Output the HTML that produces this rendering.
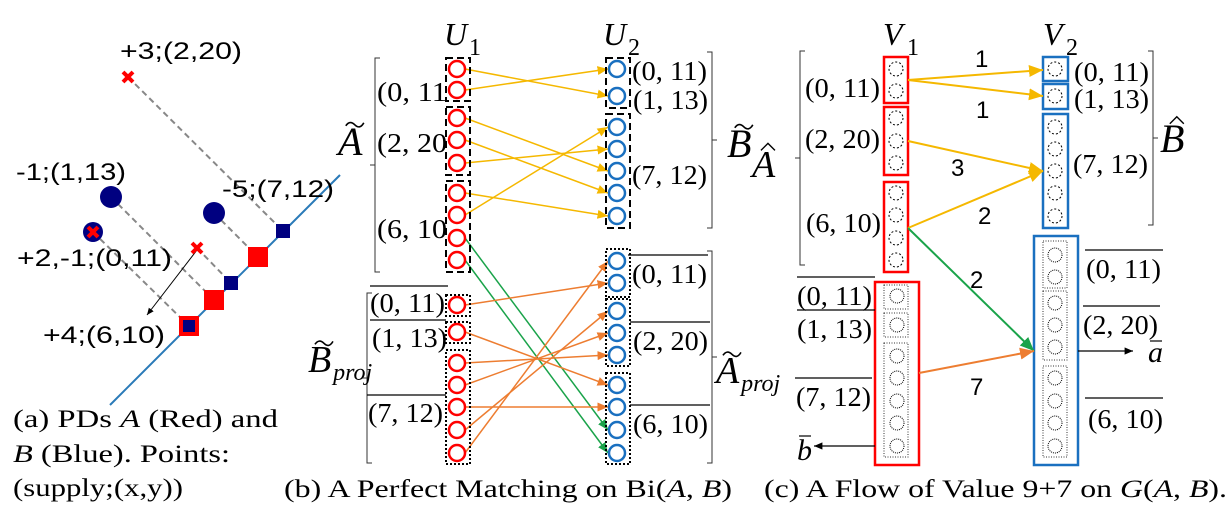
<!DOCTYPE html>
<html><head><meta charset="utf-8"><style>
body{margin:0;background:#fff}
svg{display:block}
.s{font-family:"Liberation Sans","DejaVu Sans",sans-serif;font-size:24px}
.m{font-family:"Liberation Serif",serif;font-size:27px}
.cap{font-family:"Liberation Serif",serif;font-size:25px}
.i{font-family:"Liberation Serif",serif;font-style:italic}
</style></head><body>
<svg id="c" width="1230" height="505" viewBox="0 0 1230 505" xmlns="http://www.w3.org/2000/svg">
<defs>
<marker id="ay" markerWidth="8" markerHeight="8" refX="7" refY="3" orient="auto"><path d="M0,0L7,3L0,6z" fill="#f5b800"/></marker>
<marker id="ao" markerWidth="8" markerHeight="8" refX="7" refY="3" orient="auto"><path d="M0,0L7,3L0,6z" fill="#ed7d31"/></marker>
<marker id="ag" markerWidth="8" markerHeight="8" refX="7" refY="3" orient="auto"><path d="M0,0L7,3L0,6z" fill="#1aa34a"/></marker>
<marker id="ak" markerWidth="8" markerHeight="8" refX="7" refY="3" orient="auto"><path d="M0,0L7,3L0,6z" fill="#000"/></marker>
</defs>
<g>
<line x1="110" y1="405" x2="340" y2="175" stroke="#2a7ab8" stroke-width="2"/>
<g stroke="#888" stroke-width="2" stroke-dasharray="6,4">
<line x1="128" y1="77" x2="283" y2="231"/><line x1="111" y1="197" x2="214" y2="300"/>
<line x1="214" y1="213" x2="258" y2="257"/><line x1="93" y1="232" x2="189" y2="326"/>
<line x1="197" y1="248" x2="231" y2="283"/></g>
<line x1="197" y1="250" x2="147" y2="315" stroke="#000" stroke-width="1" marker-end="url(#ak)"/>
<rect x="248" y="247" width="20" height="20" fill="#f00"/><rect x="204" y="290" width="20" height="20" fill="#f00"/>
<rect x="179" y="316" width="20" height="20" fill="#f00"/><rect x="183" y="320" width="12" height="12" fill="#000080"/>
<rect x="276" y="224" width="14" height="14" fill="#000080"/><rect x="224" y="276" width="14" height="14" fill="#000080"/>
<circle cx="111" cy="197" r="11" fill="#000080"/><circle cx="214" cy="213" r="11" fill="#000080"/><circle cx="93" cy="232" r="10" fill="#000080"/>
<g stroke="#f00" stroke-width="4"><path d="M123,72l10,10M133,72l-10,10"/><path d="M88,227l10,10M98,227l-10,10"/><path d="M192,243l10,10M202,243l-10,10"/></g>
<text class="s" x="120" y="59" textLength="122" lengthAdjust="spacingAndGlyphs">+3;(2,20)</text>
<text class="s" x="16" y="180" textLength="110" lengthAdjust="spacingAndGlyphs">-1;(1,13)</text>
<text class="s" x="222" y="197" textLength="112" lengthAdjust="spacingAndGlyphs">-5;(7,12)</text>
<text class="s" x="17" y="266" textLength="155" lengthAdjust="spacingAndGlyphs">+2,-1;(0,11)</text>
<text class="s" x="43" y="343" textLength="122" lengthAdjust="spacingAndGlyphs">+4;(6,10)</text>
<text class="cap" x="13" y="427" textLength="265" lengthAdjust="spacingAndGlyphs">(a) PDs <tspan class="i">A</tspan> (Red) and</text>
<text class="cap" x="13" y="462" textLength="217" lengthAdjust="spacingAndGlyphs"><tspan class="i">B</tspan> (Blue). Points:</text>
<text class="cap" x="13" y="496" textLength="170" lengthAdjust="spacingAndGlyphs">(supply;(x,y))</text>
</g>
<g id="pb"></g>
<g id="pc"></g>
<text class="cap" x="284" y="497" textLength="448" lengthAdjust="spacingAndGlyphs">(b) A Perfect Matching on Bi(<tspan class="i">A</tspan>, <tspan class="i">B</tspan>)</text>
<text class="cap" x="764" y="497" textLength="463" lengthAdjust="spacingAndGlyphs">(c) A Flow of Value 9+7 on <tspan class="i">G</tspan>(<tspan class="i">A</tspan>, <tspan class="i">B</tspan>).</text>
</svg>
<script>
const u1Y=[69,90,118,140,163,193,215,238,260,305,332,363,385,407,430,453];
const u2Y=[69,96,127,149,171,193,216,261,283,311,333,355,385,407,430,453];
const matchFrom=[0,1,2,3,4,5,6,7,8,9,10,11,12,13,14,15];
const matchTo=[1,0,4,5,3,6,2,14,15,8,12,11,10,13,9,7];
const matchKind=["y","y","y","y","y","y","y","g","g","o","o","o","o","o","o","o"];
const flowLabels=["1","1","3","2","2","7"];
const NS="http://www.w3.org/2000/svg";
function el(p,t,a,txt){const e=document.createElementNS(NS,t);for(const k in a)e.setAttribute(k,a[k]);if(txt!==undefined)e.textContent=txt;p.appendChild(e);return e;}
const pb=document.getElementById('pb'),pc=document.getElementById('pc');
const X1=457,X2=617,col={y:"#f5b800",o:"#ed7d31",g:"#1aa34a"};
for(let i=0;i<matchFrom.length;i++){
 const a=u1Y[matchFrom[i]],b=u2Y[matchTo[i]],k=matchKind[i];
 const l=el(pb,'line',{x1:X1+8,y1:a,x2:X2-9,y2:b,stroke:col[k],'stroke-width':1.5,'marker-end':'url(#a'+k+')'});
 
 
}
u1Y.forEach(y=>{const c=el(pb,'circle',{cx:X1,cy:y,r:8,fill:'none',stroke:'#f00','stroke-width':2.5});
 
 });
u2Y.forEach(y=>{const c=el(pb,'circle',{cx:X2,cy:y,r:8,fill:'none',stroke:'#1a70c0','stroke-width':2.5});
 
 });
[[446,58,101],[446,107,175],[446,181,272]].forEach(r=>el(pb,'rect',{x:r[0],y:r[1],width:24,height:r[2]-r[1],fill:'none',stroke:'#000','stroke-width':2,'stroke-dasharray':'7,4'}));
[[606,58,108],[606,114,228]].forEach(r=>el(pb,'rect',{x:r[0],y:r[1],width:24,height:r[2]-r[1],fill:'none',stroke:'#000','stroke-width':2,'stroke-dasharray':'7,4'}));
[[446,295,316],[446,322,343],[446,350,464]].forEach(r=>el(pb,'rect',{x:r[0],y:r[1],width:24,height:r[2]-r[1],fill:'none',stroke:'#000','stroke-width':2,'stroke-dasharray':'2,2'}));
[[606,249,297],[606,299,366],[606,373,464]].forEach(r=>el(pb,'rect',{x:r[0],y:r[1],width:24,height:r[2]-r[1],fill:'none',stroke:'#000','stroke-width':2,'stroke-dasharray':'2,2'}));
function brL(p,x,y1,y2){el(p,'path',{d:`M${x+5},${y1}H${x}V${y2}H${x+5}M${x},${(y1+y2)/2}H${x-5}`,fill:'none',stroke:'#333','stroke-width':1});}
function brR(p,x,y1,y2){el(p,'path',{d:`M${x-5},${y1}H${x}V${y2}H${x-5}M${x},${(y1+y2)/2}H${x+5}`,fill:'none',stroke:'#333','stroke-width':1});}
function tx(p,x,y,s,cls,fs,len){const t=el(p,'text',{x:x,y:y,class:cls||'m'},s);if(fs)t.style.fontSize=fs+'px';if(len){t.setAttribute('textLength',len);t.setAttribute('lengthAdjust','spacingAndGlyphs');}return t;}
function ol(p,x1,x2,y){el(p,'line',{x1:x1,x2:x2,y1:y,y2:y,stroke:'#000','stroke-width':1.2});}
function acc(p,x,y,letter,mark,fs,sub){
 tx(p,x,y,letter,'m i',fs);
 const cx=x+fs*0.42,ty=y-fs*0.78;
 if(mark==='~')el(p,'path',{d:`M${cx-9},${ty+2}q4,-6 9,-1t9,-2`,fill:'none',stroke:'#000','stroke-width':1.6});
 else el(p,'path',{d:`M${cx-7},${ty+3}L${cx},${ty-4}L${cx+7},${ty+3}`,fill:'none',stroke:'#000','stroke-width':1.4});
 if(sub)tx(p,x+fs*0.66,y+8,sub,'m i',24);}
brL(pb,375,58,272);brL(pb,367,293,463);brR(pb,712,52,228);brR(pb,712,251,463);
tx(pb,444,45,'U','m i',32);tx(pb,469,55,'1','m',24);tx(pb,603,45,'U','m i',32);tx(pb,628,55,'2','m',24);
tx(pb,377,101,'(0, 11','m',27,70);tx(pb,377,152,'(2, 20','m',27,70);tx(pb,377,238,'(6, 10','m',27,70);
acc(pb,338,155,'A','~',40);acc(pb,727,157,'B','~',40);
acc(pb,308,372,'B','~',38,'proj');acc(pb,716,383,'A','~',38,'proj');
ol(pb,370,448,286);tx(pb,370,312,'(0, 11)','m',27,75);ol(pb,370,446,320);tx(pb,372,347,'(1, 13)','m',27,75);ol(pb,367,446,395);tx(pb,368,422,'(7, 12)','m',27,75);
tx(pb,632,80,'(0, 11)','m',27,75);tx(pb,633,109,'(1, 13)','m',27,75);tx(pb,632,184,'(7, 12)','m',27,75);
ol(pb,628,708,255);tx(pb,632,283,'(0, 11)','m',27,75);ol(pb,630,710,322);tx(pb,633,350,'(2, 20)','m',27,75);ol(pb,630,710,405);tx(pb,633,433,'(6, 10)','m',27,75);
function dc(p,x,y,d){el(p,'circle',{cx:x,cy:y,r:7,fill:'none',stroke:'#000','stroke-width':1,'stroke-dasharray':d});}
[[884,57,103],[884,107,175],[884,182,272]].forEach(r=>el(pc,'rect',{x:r[0],y:r[1],width:24,height:r[2]-r[1],fill:'none',stroke:'#f00','stroke-width':2.5}));
[[1043,57,81],[1043,84,109],[1043,114,228]].forEach(r=>el(pc,'rect',{x:r[0],y:r[1],width:25,height:r[2]-r[1],fill:'none',stroke:'#1a70c0','stroke-width':2.5}));
el(pc,'rect',{x:875,y:282,width:44,height:183,fill:'none',stroke:'#f00','stroke-width':2.5});
el(pc,'rect',{x:1034,y:236,width:44,height:229,fill:'none',stroke:'#1a70c0','stroke-width':2.5});
[[884,285,309],[884,313,337],[884,343,457]].forEach(r=>el(pc,'rect',{x:r[0],y:r[1],width:24,height:r[2]-r[1],fill:'none',stroke:'#333','stroke-width':1,'stroke-dasharray':'1,1.5'}));
[[1043,241,288],[1043,291,360],[1043,366,457]].forEach(r=>el(pc,'rect',{x:r[0],y:r[1],width:24,height:r[2]-r[1],fill:'none',stroke:'#333','stroke-width':1,'stroke-dasharray':'1,1.5'}));
[69,91,118,141,163,193,215,238,260].forEach(y=>dc(pc,896,y,'2,2'));
[69,96,127,149,171,193,216].forEach(y=>dc(pc,1055,y,'2,2'));
[296,325,356,378,401,423,446].forEach(y=>dc(pc,897,y,'1,1'));
[255,277,303,325,347,378,401,423,446].forEach(y=>dc(pc,1055,y,'1,1'));
const fe=[[908,80,1043,70,'y'],[908,80,1043,96,'y'],[908,141,1043,171,'y'],[908,228,1043,171,'y'],[908,228,1034,351,'g'],[919,373,1034,351,'o']];
fe.forEach(f=>{const l=el(pc,'line',{x1:f[0],y1:f[1],x2:f[2],y2:f[3],stroke:col[f[4]],'stroke-width':2,'marker-end':'url(#a'+f[4]+')'});
 
 });
const lp=[[975,67],[976,118],[951,176],[978,224],[970,288],[970,395]];
flowLabels.forEach((s,i)=>tx(pc,lp[i][0],lp[i][1],s,'s',24));
brL(pc,800,51,265);brR(pc,1153,51,225);
tx(pc,883,45,'V','m i',32);tx(pc,907,55,'1','m',24);tx(pc,1043,45,'V','m i',32);tx(pc,1066,55,'2','m',24);
tx(pc,805,97,'(0, 11)','m',27,75);tx(pc,805,148,'(2, 20)','m',27,75);tx(pc,806,232,'(6, 10)','m',27,75);
tx(pc,1074,81,'(0, 11)','m',27,75);tx(pc,1074,108,'(1, 13)','m',27,75);tx(pc,1073,173,'(7, 12)','m',27,75);
acc(pc,752,177,'A','^',38);acc(pc,1160,152,'B','^',40);
ol(pc,797,875,277);tx(pc,797,305,'(0, 11)','m',27,75);ol(pc,797,875,310);tx(pc,797,338,'(1, 13)','m',27,75);ol(pc,795,872,378);tx(pc,796,406,'(7, 12)','m',27,75);
ol(pc,1085,1163,250);tx(pc,1086,278,'(0, 11)','m',27,75);ol(pc,1083,1160,306);tx(pc,1083,334,'(2, 20)','m',27,75);ol(pc,1085,1163,398);tx(pc,1088,428,'(6, 10)','m',27,75);
el(pc,'line',{x1:875,y1:446,x2:814,y2:446,stroke:'#000','stroke-width':1.2,'marker-end':'url(#ak)'});
el(pc,'line',{x1:1078,y1:351,x2:1133,y2:351,stroke:'#000','stroke-width':1.2,'marker-end':'url(#ak)'});
tx(pc,797,460,'b','m i',30);ol(pc,799,811,436);tx(pc,1148,362,'a','m i',30);ol(pc,1150,1162,341);
</script>
</body></html>
